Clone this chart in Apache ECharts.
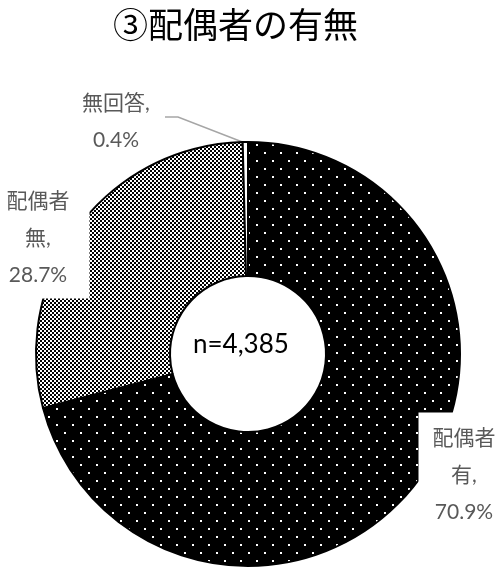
<!DOCTYPE html>
<html>
<head>
<meta charset="utf-8">
<script src="https://cdn.jsdelivr.net/npm/echarts@6/dist/echarts.min.js"></script>
<style>
  html, body { margin: 0; padding: 0; background: #fff; }
  #chart { width: 502px; height: 569px; }
</style>
</head>
<body>
<div id="chart"></div>
<script>
var categories = ['配偶者\n有', '配偶者\n無', '無回答'];
var values = [70.9, 28.7, 0.4];
var totalLabel = 'n=4,385';
var titleText = '③配偶者の有無';

// black with white dots
function dotPattern() {
	var c = document.createElement('canvas');
	c.width = 16; c.height = 16;
	var ctx = c.getContext('2d');
	ctx.fillStyle = '#000';
	ctx.fillRect(0, 0, 16, 16);
	ctx.fillStyle = '#fff';
	ctx.fillRect(0, 0, 2, 2);
	ctx.fillRect(8, 8, 2, 2);
	return c;
}

// fine checkerboard
function checkPattern() {
	var c = document.createElement('canvas');
	c.width = 4; c.height = 4;
	var ctx = c.getContext('2d');
	ctx.fillStyle = '#fff';
	ctx.fillRect(0, 0, 4, 4);
	ctx.fillStyle = '#000';
	ctx.fillRect(0, 0, 2, 2);
	ctx.fillRect(2, 2, 2, 2);
	return c;
}

var fills = [
	{ image: dotPattern(), repeat: 'repeat' },
	{ image: checkPattern(), repeat: 'repeat' },
	'#fff'
];

// label spots (right, left, top)
var labelSpots = [
	{ x: 464, y: 475, pad: [8, 14, 6, 14] },
	{ x: 38, y: 238, pad: [6, 20, 4, 20] },
	{ x: 116, y: 122, pad: [2, 4, 2, 4] }
];

var chart = echarts.init(document.getElementById('chart'));

var option = {
	animation: false,
	title: {
		text: titleText,
		left: 108,
		top: 2,
		textStyle: {
			fontFamily: '"Noto Sans CJK JP"',
			fontSize: 35,
			fontWeight: 'normal',
			color: '#000'
		}
	},
	graphic: [{
		type: 'text',
		left: 193,
		top: 332,
		style: {
			text: totalLabel,
			fontFamily: 'Lato, "Noto Sans CJK JP"',
			fontSize: 26,
			fill: '#000'
		}
	}],
	series: [{
		type: 'pie',
		center: [248, 354],
		radius: [78, 212],
		startAngle: 90,
		clockwise: true,
		avoidLabelOverlap: false,
		data: categories.map(function (name, i) {
			return {
				name: name,
				value: values[i],
				itemStyle: { color: fills[i] },
				labelLine: { show: i === 2 },
				label: { padding: labelSpots[i].pad }
			};
		}),
		itemStyle: {
			borderColor: '#000',
			borderWidth: 2
		},
		label: {
			show: true,
			position: 'outside',
			formatter: '{b},\n{c}%',
			fontFamily: 'Lato, "Noto Sans CJK JP"',
			fontSize: 21,
			lineHeight: 37,
			color: '#595959',
			align: 'center',
			backgroundColor: '#fff'
		},
		labelLine: {
			lineStyle: { color: '#a6a6a6', width: 1.5 }
		},
		labelLayout: function (params) {
			var s = labelSpots[params.dataIndex];
			var out = {
				x: s.x,
				y: s.y,
				align: 'center',
				verticalAlign: 'middle'
			};
			if (params.dataIndex === 2) {
				out.labelLinePoints = [[165, 117], [178, 117], [245, 143]];
			}
			return out;
		}
	}]
};

chart.setOption(option);
</script>
</body>
</html>
